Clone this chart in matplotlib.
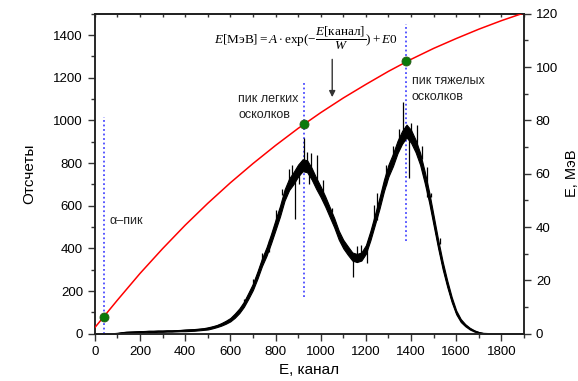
import matplotlib.pyplot as plt
from matplotlib.ticker import MultipleLocator

plt.rcParams['font.family'] = ['Liberation Sans', 'DejaVu Sans']
plt.rcParams['mathtext.fontset'] = 'custom'
plt.rcParams['mathtext.rm'] = 'Liberation Serif'
plt.rcParams['mathtext.it'] = 'Liberation Serif:italic'

# spectrum, read every 20 channels
channels = list(range(0, 1901, 20))
counts = [0, 0, 0, 0, 0,
          2, 5, 7, 8, 9,
          10, 10, 11, 11, 12,
          12, 13, 13, 14, 15,
          16, 17, 18, 20, 22,
          25, 30, 36, 44, 54,
          66, 85, 108, 138, 178,
          220, 275, 335, 385, 445,
          510, 575, 650, 700, 730,
          765, 790, 785, 750, 705,
          665, 620, 570, 520, 462,
          420, 390, 362, 355, 362,
          395, 460, 535, 611, 695,
          765, 815, 875, 920, 950,
          925, 880, 820, 735, 640,
          530, 420, 320, 235, 160,
          100, 62, 40, 24, 13,
          6, 2, 1, 0, 0,
          0, 0, 0, 0, 0,
          0]
# half width of the noisy band
noise = [0, 0, 0, 0, 0,
         1, 2, 2, 2, 2,
         2, 3, 3, 3, 3,
         3, 3, 3, 3, 3,
         4, 4, 4, 4, 4,
         5, 5, 5, 6, 7,
         8, 10, 11, 12, 14,
         15, 17, 18, 20, 22,
         24, 25, 26, 27, 28,
         28, 28, 28, 27, 26,
         25, 24, 23, 22, 21,
         20, 20, 19, 19, 19,
         20, 22, 24, 26, 27,
         28, 29, 29, 30, 30,
         30, 29, 28, 27, 25,
         23, 20, 18, 15, 12,
         9, 7, 5, 4, 3,
         2, 1, 1, 0, 0,
         0, 0, 0, 0, 0,
         0]
# single-channel spikes that stick out of the band
spike_ch = [660, 700, 740, 770, 800, 830, 860, 872, 888, 905, 924, 940, 950,
            958, 983, 1010, 1050, 1100, 1143, 1160, 1179, 1205, 1238, 1250,
            1290, 1320, 1345, 1364, 1393, 1400, 1428, 1450, 1470, 1490, 1530]
spike_val = [165, 255, 380, 440, 580, 680, 770, 790, 540, 700, 916, 850, 700,
             845, 838, 720, 590, 440, 267, 410, 416, 330, 603, 660,
             790, 880, 960, 1088, 728, 990, 978, 880, 780, 660, 450]

# calibration curve (MeV)
calib_ch = list(range(0, 1901, 100))
calib_mev = [2.3, 12.6, 22.6, 31.9, 40.7, 48.9, 56.6, 63.8, 70.6, 77.0,
             82.9, 88.4, 93.5, 98.4, 102.9, 107.0, 110.7, 114.2, 117.4, 120.3]

peak_ch = [41, 924, 1378]
peak_mev = [6.3, 78.6, 102.2]
line_top = [1015, 1181, 1450]
line_bottom = [0, 173, 436]

fig = plt.figure(figsize=(5.78, 3.81), dpi=100)
ax = fig.add_axes([0.164, 0.124, 0.7426, 0.840])
ax2 = ax.twinx()

lo = [c - n for c, n in zip(counts, noise)]
hi = [c + n for c, n in zip(counts, noise)]
ax.fill_between(channels, lo, hi, color='black', lw=0.8, zorder=2)
ax.plot(channels, counts, color='black', lw=0.8, zorder=2)
mid_at_spike = [counts[round(c / 20)] for c in spike_ch]
ax.vlines(spike_ch, mid_at_spike, spike_val, color='black', lw=0.9, zorder=2)

ax.vlines(peak_ch, line_bottom, line_top, color='#4a4aff', lw=1.3,
          linestyles=(0, (1, 1.5)), zorder=1)

ax.set_xlim(0, 1900)
ax.set_ylim(0, 1500)
ax2.set_ylim(0, 120)
ax2.plot(calib_ch, calib_mev, color='#ff0000', lw=1.1, zorder=3)
ax2.plot(peak_ch, peak_mev, 'o', color='#0a7a0a', ms=6.5, mec='#2a5a1a', mew=0.6, zorder=4)

ax.xaxis.set_major_locator(MultipleLocator(200))
ax.xaxis.set_minor_locator(MultipleLocator(100))
ax.yaxis.set_major_locator(MultipleLocator(200))
ax.yaxis.set_minor_locator(MultipleLocator(100))
ax2.yaxis.set_major_locator(MultipleLocator(20))
ax2.yaxis.set_minor_locator(MultipleLocator(10))
ax.tick_params(which='major', direction='out', length=5, width=1, labelsize=9.5, color='#333333')
ax.tick_params(which='minor', direction='out', length=3, width=1, color='#333333')
ax2.tick_params(which='major', direction='out', length=5, width=1, labelsize=9.5, color='#333333')
ax2.tick_params(which='minor', direction='out', length=3, width=1, color='#333333')

top = ax.secondary_xaxis('top')
top.xaxis.set_major_locator(MultipleLocator(100))
top.tick_params(direction='in', length=2.5, width=1, labeltop=False, color='#333333')
for s in list(ax.spines.values()) + list(ax2.spines.values()) + list(top.spines.values()):
    s.set_linewidth(1.1)
    s.set_color('#222222')

ax.set_xlabel('E, канал', fontsize=11)
ax.set_ylabel('Отсчеты', fontsize=11, labelpad=12)
ax2.set_ylabel('E, МэВ', fontsize=10.5)
ax2.yaxis.set_label_coords(1.095, 0.5)

ax.text(63, 530, 'α–пик', fontsize=9, va='center', color='#222222')
ax.text(634, 1063, 'пик легких\nосколков', fontsize=9, va='center',
        linespacing=1.5, color='#222222')
ax.text(1403, 1148, 'пик тяжелых\nосколков', fontsize=9, va='center',
        linespacing=1.5, color='#222222')
ax.text(936, 1386, r'$E[\mathrm{МэВ}] = A\cdot\exp(-\dfrac{E[\mathrm{канал}]}{W}) + E0$',
        fontsize=9.5, ha='center', va='center')
ax.annotate('', xy=(1051, 1096), xytext=(1051, 1299),
            arrowprops=dict(arrowstyle='-|>', color='#333333', lw=1, mutation_scale=9))

fig.savefig('out.png', dpi=100)
